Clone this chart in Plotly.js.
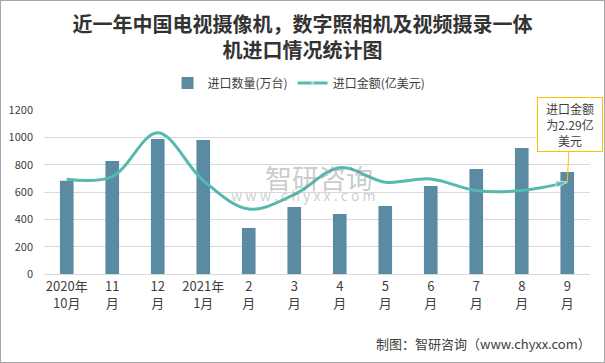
<!DOCTYPE html>
<html>
<head>
<meta charset="utf-8">
<script src="https://cdn.plot.ly/plotly-3.0.1.min.js"></script>
<style>
html,body{margin:0;padding:0;background:#fff;}
#wrap{position:relative;width:605px;height:363px;}
#chart{width:605px;height:363px;}
#frame{position:absolute;left:0;top:0;width:605px;height:363px;box-sizing:border-box;border:1px solid #a6a6a6;pointer-events:none;}
</style>
</head>
<body>
<div id="wrap"><div id="chart"></div><div id="frame"></div></div>
<script>
const categories = ["2020年<br>10月","11<br>月","12<br>月","2021年<br>1月","2<br>月","3<br>月","4<br>月","5<br>月","6<br>月","7<br>月","8<br>月","9<br>月"];
const quantity = [683, 827, 988, 980, 337, 490, 439, 498, 644, 768, 922, 746];
const amount = [2.36, 2.43, 3.52, 2.33, 1.62, 1.98, 2.65, 2.29, 2.37, 2.08, 2.08, 2.29];
const yTicks = [0, 200, 400, 600, 800, 1000, 1200];

const idx = categories.map((_, i) => i);
const font = "'Noto Sans CJK SC', 'Noto Sans', sans-serif";
const txt = '#404040';
const nb = '\u00a0';

const traces = [
  {
    type: 'bar', name: '进口数量(万台)', x: idx, y: quantity,
    width: 0.3, marker: {color: '#5B8BA2'}
  },
  {
    type: 'scatter', mode: 'lines+markers', name: '进口金额(亿美元)', x: idx, y: amount, yaxis: 'y2',
    line: {color: '#55B9AE', width: 3, shape: 'spline', smoothing: 1},
    marker: {
      color: '#55B9AE',
      size: amount.map((_, i) => i === 0 ? 10 : (i === amount.length - 1 ? 12 : 0)),
      symbol: amount.map((_, i) => i === amount.length - 1 ? 'arrow' : 'circle'),
      angleref: 'previous'
    }
  }
];

const layout = {
  width: 605, height: 363,
  margin: {l: 44, r: 15, t: 110, b: 89, autoexpand: false},
  paper_bgcolor: '#fff', plot_bgcolor: '#fff',
  font: {family: font, color: txt, size: 12},
  title: {
    text: '近一年中国电视摄像机，数字照相机及视频摄录一体<br>机进口情况统计图',
    font: {family: font, size: 20, color: '#333', weight: 'bold'},
    x: 0.5, xanchor: 'center', y: 1 - 32/363, yanchor: 'top', automargin: false
  },
  showlegend: true,
  legend: {
    orientation: 'h', x: (299 - 44) / 546, xanchor: 'center',
    y: 1 + (110 - 83) / 164, yanchor: 'middle',
    font: {size: 12, color: txt}, traceorder: 'normal'
  },
  bargap: 0.7,
  xaxis: {
    tickmode: 'array', tickvals: idx, ticktext: categories, tickangle: 0,
    range: [-0.5, 11.5], showgrid: false, zeroline: false,
    showline: true, linecolor: '#d9d9d9', linewidth: 1,
    ticks: '', tickfont: {size: 13, color: txt}, automargin: false
  },
  yaxis: {
    range: [0, 1200], tickmode: 'array', tickvals: yTicks,
    showgrid: true, gridcolor: '#d9d9d9', gridwidth: 1,
    zeroline: false, showline: false, ticks: '',
    tickfont: {size: 11, color: txt}, ticklabelstandoff: 10, automargin: false
  },
  yaxis2: {
    overlaying: 'y', side: 'right', range: [0, 1200 / 293.5],
    visible: false, showgrid: false
  },
  annotations: [
    {
      text: '智研咨询', xref: 'paper', yref: 'paper',
      x: (319 - 44) / 546, y: (274 - 177) / 164, showarrow: false,
      font: {size: 27, color: 'rgba(140,140,140,0.45)'}
    },
    {
      text: ['w','w','w','.','c','h','y','x','x','.','c','o','m'].join(nb), xref: 'paper', yref: 'paper',
      x: (303 - 44) / 546, y: (274 - 195) / 164, showarrow: false,
      font: {size: 14, color: 'rgba(140,140,140,0.45)'}
    },
    {
      text: '进口金额<br>为2.29亿<br>美元', x: 11, y: amount[11], xref: 'x', yref: 'y2',
      showarrow: true, ax: 3, ay: -58, arrowhead: 0, arrowwidth: 1, arrowcolor: '#FFC000',
      bordercolor: '#FFC000', borderwidth: 1, borderpad: 3, bgcolor: '#fff',
      width: 58, height: 47, font: {size: 12, color: txt}
    },
    {
      text: '制图：智研咨询（www.chyxx.com）', xref: 'paper', yref: 'paper',
      x: (593 - 44) / 546, xanchor: 'right', y: -(343 - 274) / 164, yanchor: 'middle',
      showarrow: false, font: {size: 13, color: txt}
    }
  ]
};

Plotly.newPlot('chart', traces, layout, {staticPlot: true, displayModeBar: false});
</script>
</body>
</html>
